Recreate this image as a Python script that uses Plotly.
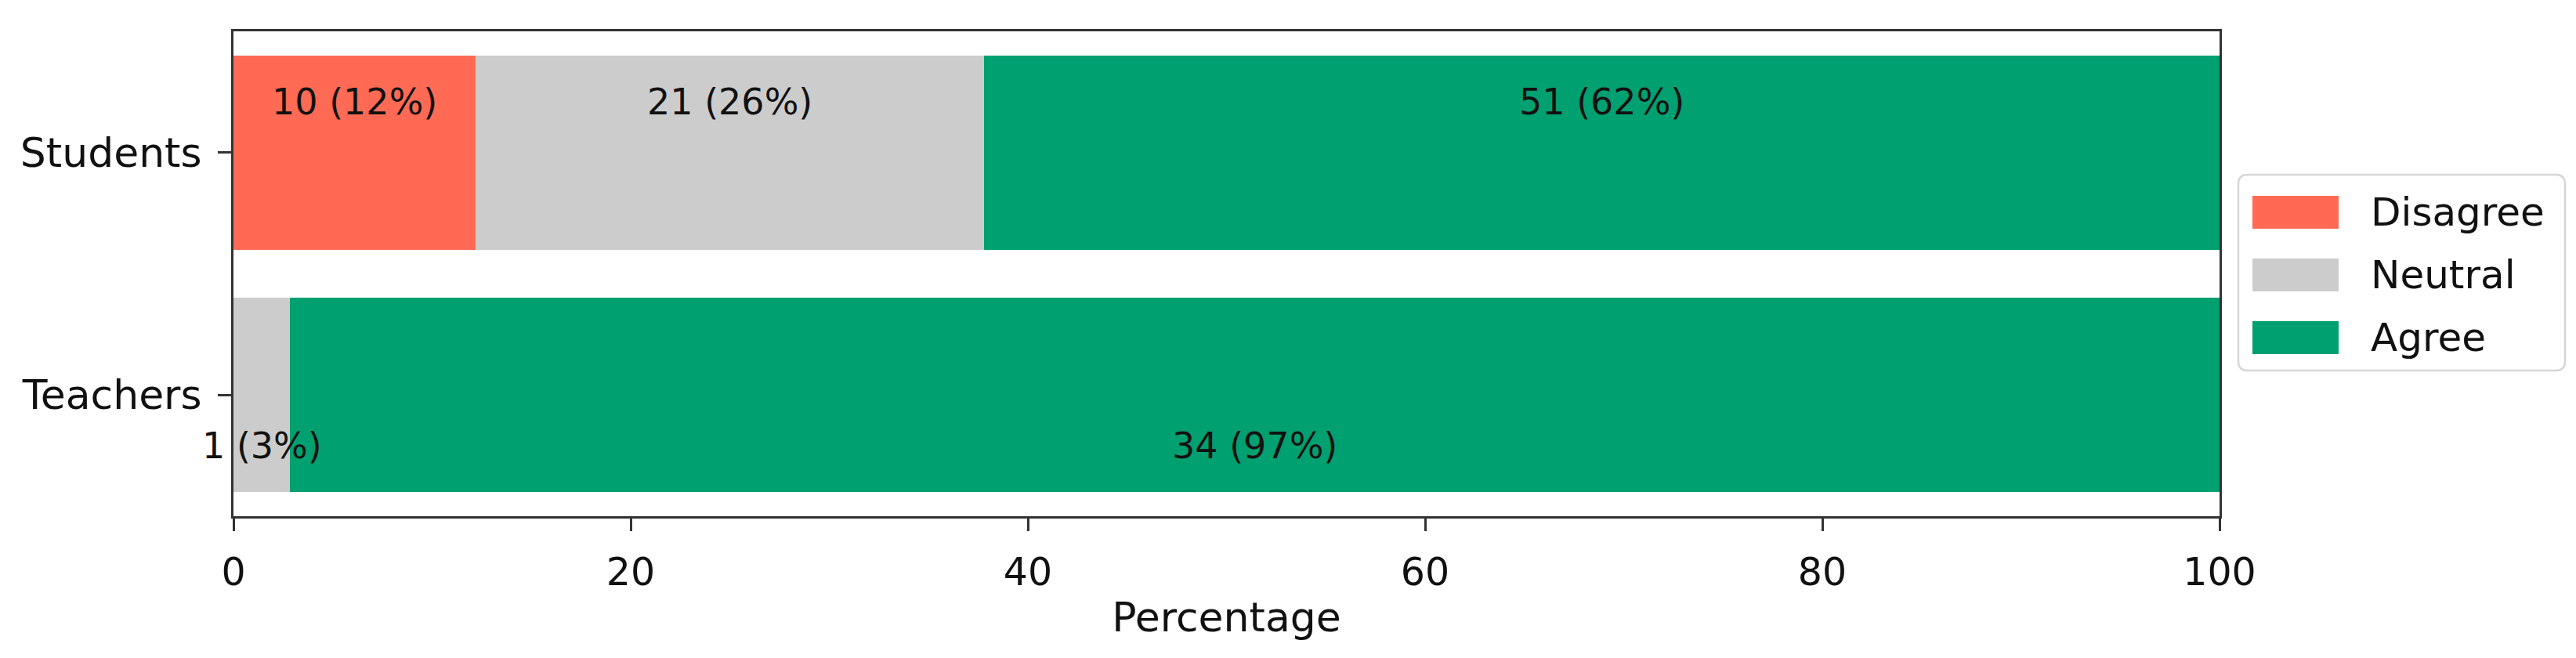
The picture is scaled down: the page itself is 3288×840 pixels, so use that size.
import plotly.graph_objects as go

# ---- data ----
groups = ["Students", "Teachers"]
group_pos = [1, 0]
responses = ["Disagree", "Neutral", "Agree"]
counts_students = [10, 21, 51]
counts_teachers = [0, 1, 34]
colors = ["#FF6A55", "#CCCCCC", "#00A070"]
x_ticks = [0, 20, 40, 60, 80, 100]
label_offsets = [0.21, -0.21]

counts = [counts_students, counts_teachers]

W, H = 3288, 840
L, R, T, B = 290, 2825, 32, 651  # plot area in pixels

fig = go.Figure()
pcts = []
for g in counts:
    tot = sum(g)
    pcts.append([c / tot * 100 for c in g])

for j, resp in enumerate(responses):
    fig.add_trace(go.Bar(
        y=group_pos,
        x=[pcts[i][j] for i in range(len(groups))],
        orientation="h",
        width=0.8,
        name=resp,
        marker=dict(color=colors[j], line=dict(width=0)),
        showlegend=False,
    ))

annotations = []
for i in range(len(groups)):
    start = 0
    for j in range(len(responses)):
        c = counts[i][j]
        p = pcts[i][j]
        if c > 0:
            annotations.append(dict(
                x=start + p / 2, y=group_pos[i] + label_offsets[i],
                xref="x", yref="y", text=f"{c} ({round(p)}%)",
                showarrow=False, font=dict(family="DejaVu Sans", size=46, color="#111111"),
                xanchor="center", yanchor="middle",
            ))
        start += p

# ---- manual legend (pixel layout converted to paper coords) ----
def px(xp):
    return (xp - L) / (R - L)

def py(yp):
    return (B - yp) / (B - T)

shapes = []
bx0, bx1, by0, by1, rad = 2849, 3266, 215, 465, 12
path = (f"M {px(bx0+rad)},{py(by0)} L {px(bx1-rad)},{py(by0)} Q {px(bx1)},{py(by0)} {px(bx1)},{py(by0+rad)} "
        f"L {px(bx1)},{py(by1-rad)} Q {px(bx1)},{py(by1)} {px(bx1-rad)},{py(by1)} "
        f"L {px(bx0+rad)},{py(by1)} Q {px(bx0)},{py(by1)} {px(bx0)},{py(by1-rad)} "
        f"L {px(bx0)},{py(by0+rad)} Q {px(bx0)},{py(by0)} {px(bx0+rad)},{py(by0)} Z")
shapes.append(dict(type="path", xref="paper", yref="paper", path=path,
                   line=dict(color="#D6D6D6", width=2.5), fillcolor="rgba(255,255,255,0.9)"))
row_y = [263, 343, 423]
for j, resp in enumerate(responses):
    yc = row_y[j]
    shapes.append(dict(type="rect", xref="paper", yref="paper",
                       x0=px(2867), x1=px(2977), y0=py(yc - 21), y1=py(yc + 21),
                       line=dict(width=0), fillcolor=colors[j]))
    annotations.append(dict(x=px(3016), y=py(yc), xref="paper", yref="paper", text=resp,
                            showarrow=False, xanchor="left", yanchor="middle",
                            font=dict(family="DejaVu Sans", size=50, color="#111111")))

fig.update_layout(
    width=W, height=H,
    margin=dict(l=L, r=W - R, t=T, b=H - B, pad=0),
    barmode="stack",
    plot_bgcolor="white", paper_bgcolor="white",
    font=dict(family="DejaVu Sans", size=49, color="#111111"),
    annotations=annotations,
    shapes=shapes,
    bargap=0.2,
)
fig.update_xaxes(
    range=[0, 100], tickvals=x_ticks, ticktext=[str(v) for v in x_ticks],
    showgrid=False, zeroline=False,
    showline=True, linecolor="#333333", linewidth=3, mirror=True,
    ticks="outside", ticklen=16, tickwidth=3, tickcolor="#333333",
    tickfont=dict(size=49), ticklabelstandoff=10,
    title=dict(text="Percentage", font=dict(size=52), standoff=12),
)
fig.update_yaxes(
    range=[-0.5, 1.5], tickvals=group_pos, ticktext=groups,
    showgrid=False, zeroline=False,
    showline=True, linecolor="#333333", linewidth=3, mirror=True,
    ticks="outside", ticklen=17, tickwidth=3, tickcolor="#333333",
    tickfont=dict(size=52), ticklabelstandoff=10,
)

fig.write_html("out.html")
